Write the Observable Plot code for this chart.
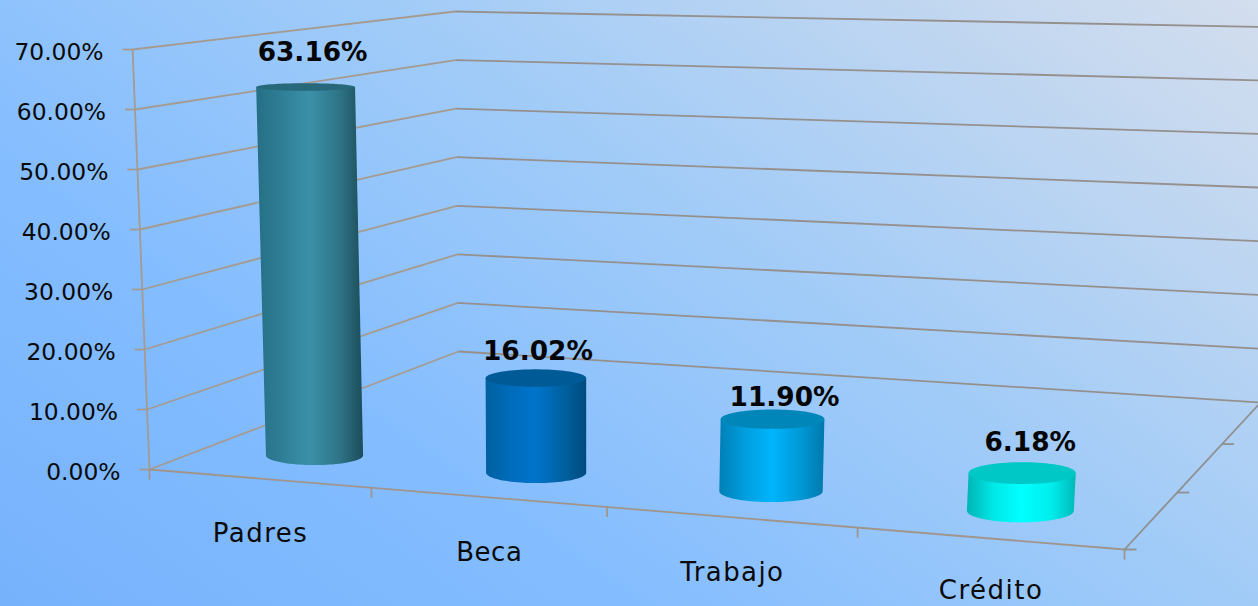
<!DOCTYPE html>
<html>
<head>
<meta charset="utf-8">
<script src="https://cdn.jsdelivr.net/npm/d3@7"></script>
<script src="https://cdn.jsdelivr.net/npm/@observablehq/plot@0.6"></script>
<style>
html,body{margin:0;padding:0;overflow:hidden;width:1258px;height:606px;}
</style>
</head>
<body>
<div id="chart"></div>
<script>
// Data
const categories = ["Padres", "Beca", "Trabajo", "Crédito"];
const values = [63.16, 16.02, 11.90, 6.18];
const valueLabels = ["63.16%", "16.02%", "11.90%", "6.18%"];
const axisTicks = [0, 10, 20, 30, 40, 50, 60, 70];
const axisLabels = ["0.00%", "10.00%", "20.00%", "30.00%", "40.00%", "50.00%", "60.00%", "70.00%"];

// Colours
const barStops = [
  ["#256f86", "#2f7f96", "#3b91a9", "#2e7486", "#1c4d5a"],
  ["#00609f", "#006cbb", "#0074cb", "#00609f", "#004a7d"],
  ["#007fb6", "#009fdf", "#00b5fd", "#0098d4", "#0078ac"],
  ["#00b4b4", "#00e8e8", "#00ffff", "#00ecec", "#00b8b8"]
];
const capColors = ["#27687b", "#005a96", "#0086b9", "#00c8c6"];

// Perspective frame of the 3-D box (layout only)
const floor = [[149, 469], [1124, 549], [1260, 402], [458, 351]];
const unitHeight = 6;      // px per percentage point at the front-left corner
const leanOrigin = 560, lean = 9.8e-5;
const barDepth = 0.16, radiusU = 0.0535, radiusW = 0.07, capInset = 2;
const labelShift = [[7, -34], [2, -27], [12, -22], [8, -31]];
const labelSpacing = [1.5, 0.5, 1.4, 1.5];
const labelDrop = [55, 55, 55, 52];

function makeProjection([[x0, y0], [x1, y1], [x2, y2], [x3, y3]]) {
  const dx1 = x1 - x2, dx2 = x3 - x2, sx = x0 - x1 + x2 - x3;
  const dy1 = y1 - y2, dy2 = y3 - y2, sy = y0 - y1 + y2 - y3;
  const det = dx1 * dy2 - dx2 * dy1;
  const g = (sx * dy2 - dx2 * sy) / det, h = (dx1 * sy - sx * dy1) / det;
  const a = x1 - x0 + g * x1, b = x3 - x0 + h * x3;
  const d = y1 - y0 + g * y1, e = y3 - y0 + h * y3;
  return (u, v, w) => {
    const q = g * u + h * w + 1;
    const bx = (a * u + b * w + x0) / q, by = (d * u + e * w + y0) / q;
    const lift = v * unitHeight / q;
    return {x: bx + (bx - leanOrigin) * lean * lift, y: by - lift};
  };
}
const P = makeProjection(floor);

// Frame lines
const wallColor = "#a59a90", backColor = "#95908d", floorColor = "#a0958c", sideColor = "#8f8f8f";
const segments = [];
for (const v of axisTicks) segments.push(
  {a: P(0, v, 0), b: P(0, v, 1), c: wallColor},
  {a: P(0, v, 1), b: P(1, v, 1), c: backColor},
  {a: {x: P(0, v, 0).x - 10, y: P(0, v, 0).y}, b: P(0, v, 0), c: wallColor}
);
segments.push({a: P(0, 0, 0), b: P(0, 70, 0), c: wallColor});
segments.push({a: P(0, 0, 0), b: P(1, 0, 0), c: floorColor});
segments.push({a: P(1, 0, 0), b: P(1, 0, 1), c: sideColor});
for (const u of [0, 0.25, 0.5, 0.75, 1]) {
  const p = P(u, 0, 0);
  segments.push({a: p, b: {x: p.x, y: p.y + 10}, c: floorColor});
}
for (const w of [0, 1 / 3, 2 / 3]) {
  const p = P(1, 0, w);
  segments.push({a: p, b: {x: p.x + 12, y: p.y}, c: sideColor});
}

// Cylinders
function ellipseAt(i, v) {
  const u = (i + 0.5) / categories.length;
  const c = P(u, v, barDepth);
  const rx = (P(u + radiusU, v, barDepth).x - P(u - radiusU, v, barDepth).x) / 2;
  const ry = Math.abs(P(u, v, barDepth - radiusW).y - P(u, v, barDepth + radiusW).y) / 2;
  return {cx: c.x, cy: c.y, rx: rx * 0.55 + 23.2, ry};
}
const angle = d3.range(0, 361, 4).map(d => d * Math.PI / 180);
const cylinders = values.map((value, i) => {
  const base = ellipseAt(i, 0), top0 = ellipseAt(i, value);
  const top = {...top0, cy: top0.cy + capInset};
  const cap = angle.map(t => ({x: top.cx + top.rx * Math.cos(t), y: top.cy + top.ry * Math.sin(t)}));
  const lower = angle.filter(t => t <= Math.PI + 1e-6).reverse()
    .map(t => ({x: base.cx + base.rx * Math.cos(t), y: base.cy + base.ry * Math.sin(t)}));
  const side = [...lower, {x: top.cx + top.rx, y: top.cy}, {x: top.cx - top.rx, y: top.cy}];
  return {cap, side, top};
});

const tickLabelRows = axisTicks.map((v, i) => {
  const p = P(0, v, 0);
  return {x: p.x - 29, y: p.y + 3, text: axisLabels[i]};
});
const categoryRows = categories.map((c, i) => {
  const a = P(i / 4, 0, 0), b = P((i + 1) / 4, 0, 0);
  return {x: (a.x + b.x) / 2, y: (a.y + b.y) / 2 + labelDrop[i], text: c};
});
const valueRows = cylinders.map((c, i) => ({
  x: c.top.cx + labelShift[i][0],
  y: c.top.cy + labelShift[i][1],
  text: valueLabels[i]
}));

const defs = () => {
  const el = d3.create("svg:defs");
  barStops.forEach((stops, i) => {
    const g = el.append("linearGradient").attr("id", `bar-${i}`)
      .attr("x1", 0).attr("x2", 1).attr("y1", 0).attr("y2", 0);
    [0, 0.25, 0.5, 0.78, 1].forEach((o, j) =>
      g.append("stop").attr("offset", o).attr("stop-color", stops[j]));
  });
  return el.node();
};

const chart = Plot.plot({
  width: 1258,
  height: 606,
  margin: 0,
  x: {type: "linear", domain: [0, 1258], range: [0, 1258], axis: null},
  y: {type: "linear", domain: [0, 606], range: [0, 606], axis: null},
  style: {
    background: "linear-gradient(35deg,#76b2fc 0%,#84bdff 30%,#a0cbf8 58%,#c2d7f0 85%,#d3deee 100%)",
    overflow: "hidden"
  },
  marks: [
    defs,
    Plot.link(segments, {
      x1: d => d.a.x, y1: d => d.a.y, x2: d => d.b.x, y2: d => d.b.y,
      stroke: d => d.c, strokeWidth: 1.8
    }),
    ...cylinders.flatMap((c, i) => [
      Plot.line(c.side, {x: "x", y: "y", fill: `url(#bar-${i})`, stroke: "none"}),
      Plot.line(c.cap, {x: "x", y: "y", fill: capColors[i], stroke: "none"})
    ]),
    Plot.text(tickLabelRows, {
      x: "x", y: "y", text: "text", textAnchor: "end", lineAnchor: "middle",
      fontFamily: "DejaVu Sans", fontSize: 23.4, fill: "#0a0a0a"
    }),
    ...categoryRows.map((row, i) => Plot.text([row], {
      x: "x", y: "y", text: "text", textAnchor: "middle", lineAnchor: "middle",
      fontFamily: "DejaVu Sans", fontSize: 26, fill: "#0a0a0a",
      render(index, scales, values, dimensions, context, next) {
        const g = next(index, scales, values, dimensions, context);
        g.querySelectorAll("text").forEach(t => t.style.letterSpacing = labelSpacing[i] + "px");
        return g;
      }
    })),
    Plot.text(valueRows, {
      x: "x", y: "y", text: "text", textAnchor: "middle", lineAnchor: "middle",
      fontFamily: "DejaVu Sans", fontSize: 26.4, fontWeight: "bold", fill: "#050505"
    })
  ]
});
document.getElementById("chart").append(chart);
</script>
</body>
</html>
